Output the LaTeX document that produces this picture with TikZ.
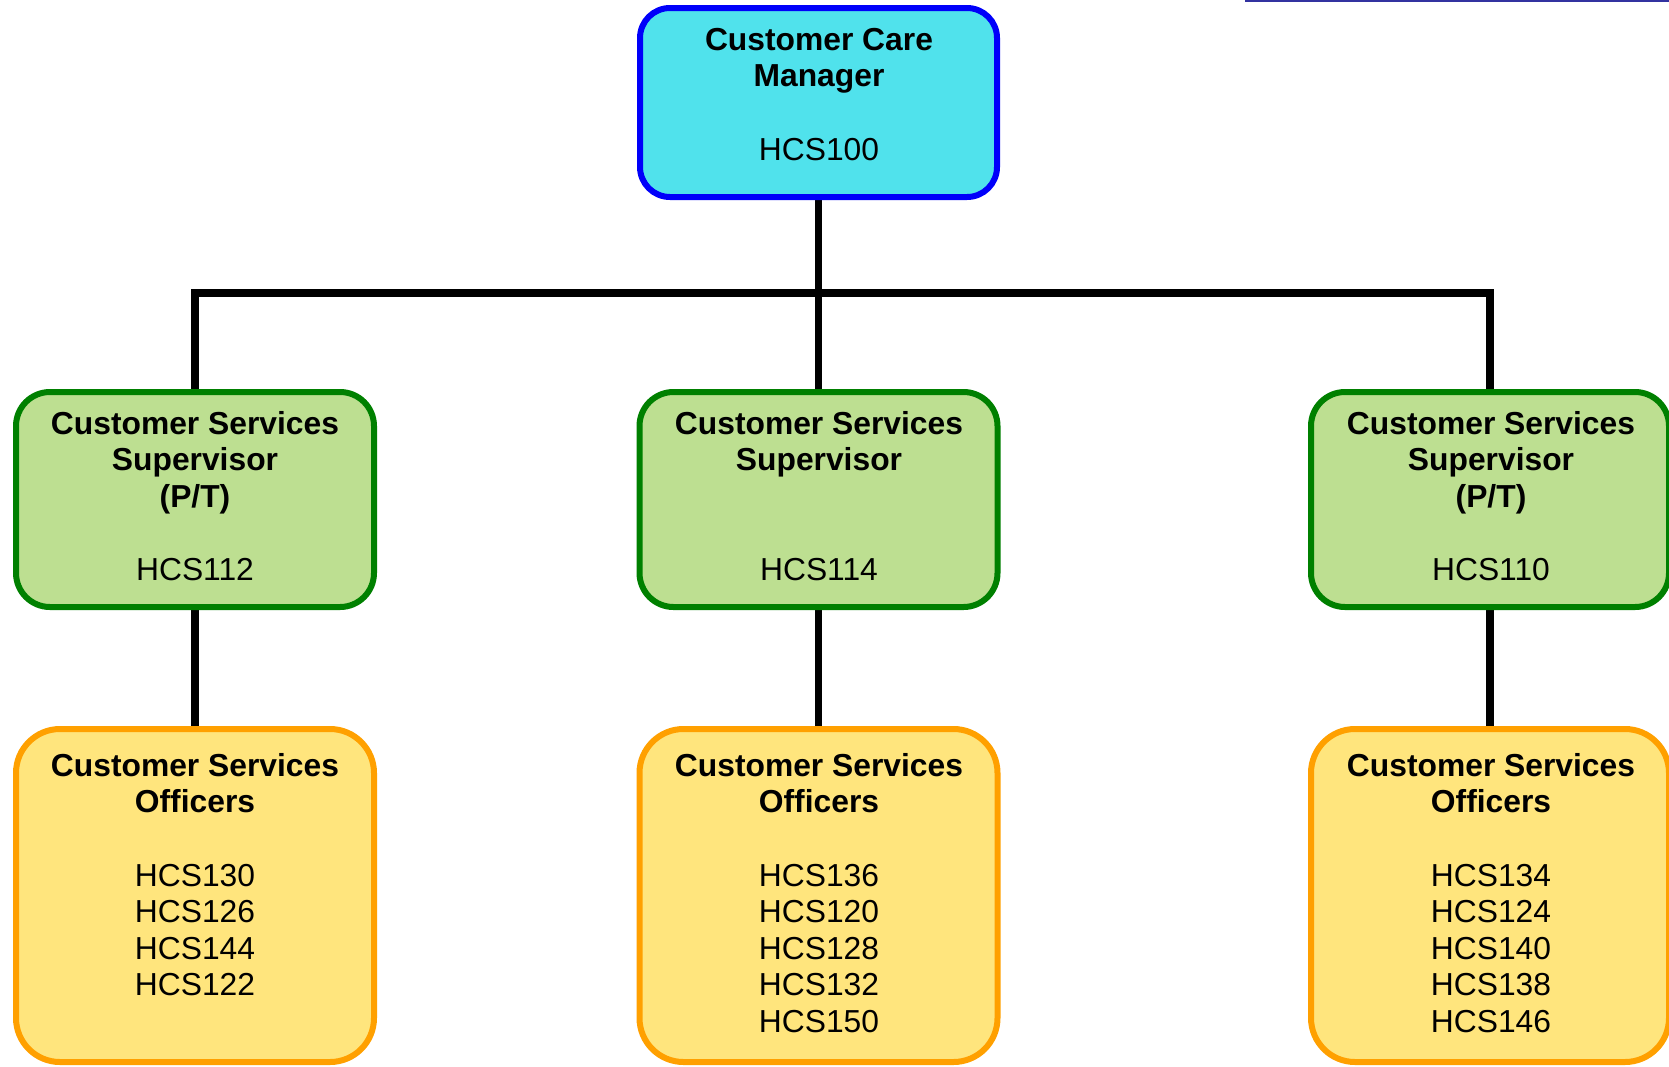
\documentclass[tikz,border=0pt]{standalone}
\usepackage{fontspec}
\setmainfont{Liberation Sans}
\usetikzlibrary{backgrounds}
\definecolor{mgrfill}{RGB}{80,226,236}
\definecolor{mgrline}{RGB}{0,0,250}
\definecolor{supfill}{RGB}{189,223,145}
\definecolor{supline}{RGB}{0,128,0}
\definecolor{offfill}{RGB}{255,229,125}
\definecolor{offline}{RGB}{255,160,0}
\definecolor{topline}{RGB}{50,50,160}
\newcommand{\firstln}{\rule{0pt}{32pt}}
\begin{document}
\begin{tikzpicture}[x=1pt,y=-1pt,
  boxbase/.style={inner sep=0pt, outer sep=0pt, line width=6pt},
  mgr/.style={boxbase, draw=mgrline, fill=mgrfill, rounded corners=30pt, minimum width=357pt, minimum height=189pt},
  sup/.style={boxbase, draw=supline, fill=supfill, rounded corners=34pt, minimum width=358pt, minimum height=215pt},
  off/.style={boxbase, draw=offline, fill=offfill, rounded corners=44pt, minimum width=358pt, minimum height=333pt},
  txt/.style={anchor=north, inner sep=0pt, align=center, font=\fontsize{31.8}{36.6}\selectfont},
  link/.style={draw=black, line width=7.5pt}]
\useasboundingbox (0,0) rectangle (1669,1066);
% boxes
\node[mgr] (ccm) at (818.5,102.5) {};
\node[sup] (s1) at (195,499.5) {};
\node[sup] (s2) at (818.5,499.5) {};
\node[sup] (s3) at (1490,499.5) {};
\node[off] (o1) at (195,895.5) {};
\node[off] (o2) at (818.5,895.5) {};
\node[off] (o3) at (1490,895.5) {};
% texts
\node[txt] (tccm) at (819,18) {\firstln\textbf{Customer Care}\\\textbf{Manager}\\\mbox{}\\HCS100};
\node[txt] (ts1) at (195,402) {\firstln\textbf{Customer Services}\\\textbf{Supervisor}\\\textbf{(P/T)}\\\mbox{}\\HCS112};
\node[txt] (ts2) at (819,402) {\firstln\textbf{Customer Services}\\\textbf{Supervisor}\\\mbox{}\\\mbox{}\\HCS114};
\node[txt] (ts3) at (1491,402) {\firstln\textbf{Customer Services}\\\textbf{Supervisor}\\\textbf{(P/T)}\\\mbox{}\\HCS110};
\node[txt] (to1) at (195,744) {\firstln\textbf{Customer Services}\\\textbf{Officers}\\\mbox{}\\HCS130\\HCS126\\HCS144\\HCS122};
\node[txt] (to2) at (819,744) {\firstln\textbf{Customer Services}\\\textbf{Officers}\\\mbox{}\\HCS136\\HCS120\\HCS128\\HCS132\\HCS150};
\node[txt] (to3) at (1491,744) {\firstln\textbf{Customer Services}\\\textbf{Officers}\\\mbox{}\\HCS134\\HCS124\\HCS140\\HCS138\\HCS146};
\coordinate (bus) at (818.5,293);
% connectors
\begin{scope}[on background layer]
\draw[link] (ccm.south) -- (s2.north);
\draw[link] (s1.north) |- (bus) -| (s3.north);
\draw[link] (s1.south) -- (o1.north);
\draw[link] (s2.south) -- (o2.north);
\draw[link] (s3.south) -- (o3.north);
\end{scope}
% partial frame at top right
\draw[draw=topline, line width=2.5pt] (1246,-6) -- (1246,1.2) -- (1680,1.2);
\end{tikzpicture}
\end{document}
